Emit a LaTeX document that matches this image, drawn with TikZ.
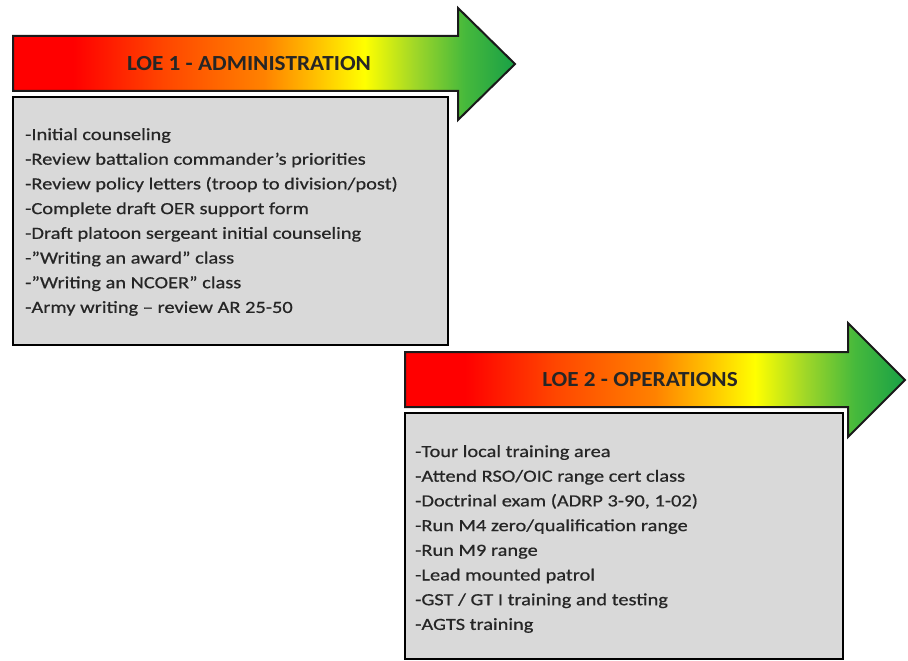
\documentclass[tikz,border=0pt]{standalone}
\usepackage{fontspec}
\setmainfont{Carlito}
\newfontfamily\itemfont[FakeStretch=1.2,FakeBold=0.6]{Carlito}
\newfontfamily\titlefont[FakeStretch=1.08]{Carlito}
\definecolor{txt}{HTML}{262626}
\definecolor{boxfill}{HTML}{D9D9D9}
\definecolor{edge}{HTML}{1A1A1A}
\pgfdeclarehorizontalshading{loe}{100bp}{%
  color(0bp)=(red); color(25bp)=(red);
  color(31bp)=(red!100!orange);
  color(40bp)=({rgb,255:red,255;green,70;blue,0});
  color(50bp)=({rgb,255:red,255;green,130;blue,0});
  color(55bp)=({rgb,255:red,255;green,190;blue,0});
  color(60bp)=({rgb,255:red,255;green,255;blue,0});
  color(65bp)=({rgb,255:red,160;green,215;blue,40});
  color(70bp)=({rgb,255:red,70;green,185;blue,60});
  color(75bp)=({rgb,255:red,25;green,160;blue,70});
  color(100bp)=({rgb,255:red,25;green,160;blue,70})}
\begin{document}
\begin{tikzpicture}[x=1pt,y=-1pt,
  loearrow/.style={shading=loe, draw=edge, line width=2pt, line join=miter},
  itembox/.style={fill=boxfill, draw=black, line width=2.5pt},
  title/.style={font=\titlefont\fontsize{21.5}{26}\selectfont\bfseries, text=txt, inner sep=0pt},
  items/.style={font=\itemfont\fontsize{17}{24.7}\selectfont, text=txt, align=left, inner sep=0pt, anchor=north west}]
\useasboundingbox[fill=white] (0,0) rectangle (908,661);
% LOE 1
\path[loearrow] (13,36) -- (458,36) -- (458,8) -- (515,64) -- (458,120) -- (458,91) -- (13,91) -- cycle;
\node[title] (t1) at (249,64) {LOE 1 - ADMINISTRATION};
\draw[itembox] (13,97) rectangle (448,345);
\node[items] (l1) at (25,128) {-Initial counseling\\
-Review battalion commander’s priorities\\
-Review policy letters (troop to division/post)\\
-Complete draft OER support form\\
-Draft platoon sergeant initial counseling\\
-”Writing an award” class\\
-”Writing an NCOER” class\\
-Army writing – review AR 25-50};
% LOE 2
\path[loearrow] (405,352) -- (848,352) -- (848,323) -- (905,380) -- (848,437) -- (848,407) -- (405,407) -- cycle;
\node[title] (t2) at (640,380) {LOE 2 - OPERATIONS};
\draw[itembox] (405,413) rectangle (843,659);
\node[items] (l2) at (415,445) {-Tour local training area\\
-Attend RSO/OIC range cert class\\
-Doctrinal exam (ADRP 3-90, 1-02)\\
-Run M4 zero/qualification range\\
-Run M9 range\\
-Lead mounted patrol\\
-GST / GT I training and testing\\
-AGTS training};
\end{tikzpicture}
\end{document}
